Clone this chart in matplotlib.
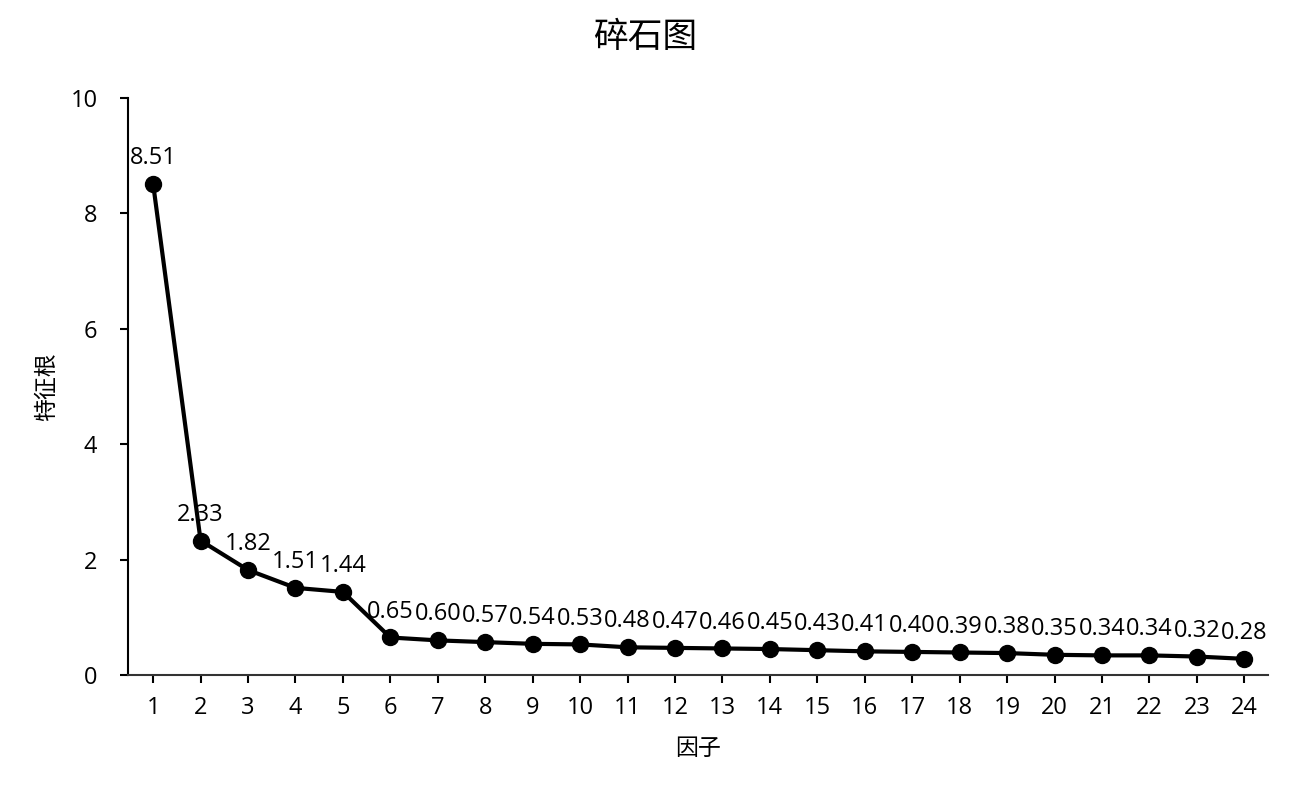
import matplotlib
matplotlib.use("Agg")
import matplotlib.pyplot as plt

plt.rcParams["font.family"] = ["Open Sans", "Noto Sans CJK SC", "DejaVu Sans"]

factors = list(range(1, 25))
eigen = [8.51, 2.33, 1.82, 1.51, 1.44, 0.65, 0.60, 0.57, 0.54, 0.53, 0.48, 0.47,
         0.46, 0.45, 0.43, 0.41, 0.40, 0.39, 0.38, 0.35, 0.34, 0.34, 0.32, 0.28]
labels = ["%.2f" % v for v in eigen]

fig = plt.figure(figsize=(12.9, 7.96), dpi=100)
ax = fig.add_axes([128 / 1290, 1 - 675 / 796, (1268 - 128) / 1290, (675 - 98) / 796])

ax.plot(factors, eigen, color="black", lw=3, marker="o", markersize=11.5, zorder=3)
for x, y, t in zip(factors, eigen, labels):
    ax.annotate(t, (x, y), xytext=(0, 10), textcoords="offset points",
                ha="center", va="bottom", fontsize=17)

ax.set_xlim(0.47, 24.5)
ax.set_ylim(0, 10)
ax.set_xticks(factors)
ax.set_yticks([0, 2, 4, 6, 8, 10])
ax.tick_params(axis="both", labelsize=17, length=6, width=1.5, colors="black")
ax.tick_params(axis="x", pad=9)
ax.tick_params(axis="y", pad=16)
for s in ["top", "right"]:
    ax.spines[s].set_visible(False)
ax.spines["left"].set_linewidth(1.5)
ax.spines["bottom"].set_linewidth(1.5)
ax.spines["bottom"].set_color("#333333")

ax.set_xlabel("因子", fontsize=16.5, labelpad=12)
ax.set_ylabel("特征根", fontsize=16.5, labelpad=8)
fig.text(0.5, 0.952, "碎石图", ha="center", va="center", fontsize=25)

fig.savefig("out.png", dpi=100)
